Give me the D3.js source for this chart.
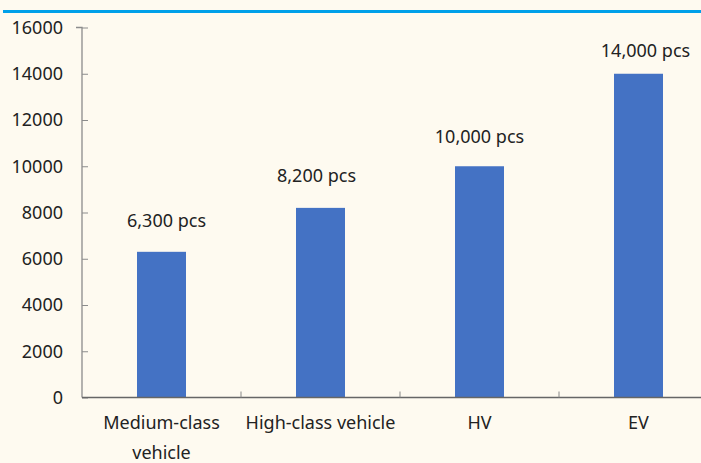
<!DOCTYPE html>
<html>
<head>
<meta charset="utf-8">
<script src="https://cdn.jsdelivr.net/npm/d3@7/dist/d3.min.js"></script>
<style>
  html, body { margin: 0; padding: 0; background: #fefaf0; }
  svg { display: block; font-family: "Noto Sans", "Open Sans", sans-serif; }
</style>
</head>
<body>
<svg id="chart" width="701" height="463"></svg>
<script>
// Parts demand per vehicle type
const categories = ["Medium-class vehicle", "High-class vehicle", "HV", "EV"];
const categoryLines = [["Medium-class", "vehicle"], ["High-class vehicle"], ["HV"], ["EV"]];
const values = [6300, 8200, 10000, 14000];
const valueLabels = ["6,300 pcs", "8,200 pcs", "10,000 pcs", "14,000 pcs"];
const yTicks = [0, 2000, 4000, 6000, 8000, 10000, 12000, 14000, 16000];

// hand-placed label nudges (px) relative to bar centre / bar top
const labelDx = [5, -4, 0, 7];
const labelGap = [30.5, 31.5, 29, 23];

const svg = d3.select("#chart");
const W = 701, H = 463;

// header rule
svg.append("line")
  .attr("x1", 3).attr("x2", W).attr("y1", 11.5).attr("y2", 11.5)
  .attr("stroke", "#00a0e9").attr("stroke-width", 3);

const left = 82, bandW = 159;
const x = d3.scaleBand().domain(categories).range([left, left + bandW * 4]).paddingInner(0).paddingOuter(0);
const y = d3.scaleLinear().domain([0, 16000]).range([397.5, 27.5]);
const barW = 49;

// bars
svg.append("g").selectAll("rect").data(values).join("rect")
  .attr("x", (d, i) => x(categories[i]) + x.bandwidth() / 2 - barW / 2)
  .attr("width", barW)
  .attr("y", d => y(d))
  .attr("height", d => y(0) - y(d))
  .attr("fill", "#4472c4");

// y axis
const yAxis = svg.append("g").attr("transform", `translate(${left},0)`)
  .call(d3.axisLeft(y).tickValues(yTicks).tickSize(-6).tickPadding(19).tickFormat(d3.format("d")));
yAxis.select(".domain").attr("stroke", "#8c8c8c").attr("stroke-width", 1.3).attr("d", `M-6,${y(16000)}H0V${y(0)}`);
yAxis.selectAll(".tick line").attr("stroke", "#8c8c8c");
yAxis.selectAll(".tick text").attr("font-size", 18).attr("fill", "#222").attr("font-family", "Noto Sans, sans-serif");

// x axis line with category separators
svg.append("line")
  .attr("x1", left).attr("x2", W).attr("y1", y(0)).attr("y2", y(0))
  .attr("stroke", "#666").attr("stroke-width", 1.3);
svg.append("g").selectAll("line").data(categories.slice(1)).join("line")
  .attr("x1", d => x(d)).attr("x2", d => x(d))
  .attr("y1", y(0)).attr("y2", y(0) - 6)
  .attr("stroke", "#888");

// category labels
const catG = svg.append("g").selectAll("text").data(categories).join("text")
  .attr("x", d => x(d) + x.bandwidth() / 2)
  .attr("y", 429)
  .attr("text-anchor", "middle")
  .attr("font-size", 18)
  .attr("fill", "#222");
catG.each(function(d, i) {
  const t = d3.select(this);
  categoryLines[i].forEach((ln, k) => {
    t.append("tspan").attr("x", x(d) + x.bandwidth() / 2).attr("dy", k === 0 ? 0 : 30).text(ln);
  });
});

// value labels
svg.append("g").selectAll("text").data(values).join("text")
  .attr("x", (d, i) => x(categories[i]) + x.bandwidth() / 2 + labelDx[i])
  .attr("y", (d, i) => y(d) - labelGap[i] + 6)
  .attr("text-anchor", "middle")
  .attr("font-size", 18)
  .attr("fill", "#222")
  .text((d, i) => valueLabels[i]);
</script>
</body>
</html>
